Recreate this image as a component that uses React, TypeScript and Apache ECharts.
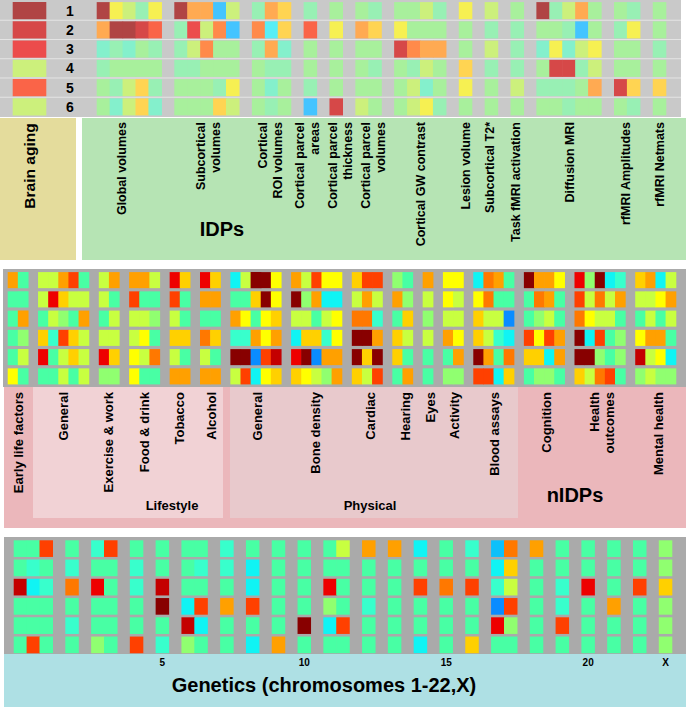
import React, { useEffect, useRef } from 'react';
import * as echarts from 'echarts';

// ---------- DATA (colour codes 0 = blue ... 3 = neutral mint ... 13 = dark red) ----------
const ROW_LABELS = ['1', '2', '3', '4', '5', '6'];

const brainAging = [13, 12, 11, 5, 10, 5];

const idpGroups = [
  'Global volumes', 'Subcortical\nvolumes', 'Cortical\nROI volumes', 'Cortical parcel\nareas',
  'Cortical parcel\nthickness', 'Cortical parcel\nvolumes', 'Cortical GW contrast', 'Lesion volume',
  'Subcortical T2*', 'Task fMRI activation', 'Diffusion MRI', 'rfMRI Amplitudes', 'rfMRI Netmats',
];
const idpSizes = [5, 5, 3, 1, 1, 2, 4, 1, 1, 1, 5, 2, 1];
const idpRows = [
  [[13, 6, 5, 3, 6], [13, 8, 8, 0, 5], [3, 8, 7], [3], [4], [4, 3], [4, 4, 5, 3], [6], [5], [4], [13, 3, 5, 8, 4], [4, 3], [4]],
  [[8, 13, 13, 12, 10], [3, 11, 5, 9, 0], [9, 1, 7], [10], [6], [8, 7], [6, 4, 4, 4], [4], [3], [3], [4, 4, 3, 0, 4], [3, 6], [4]],
  [[2, 3, 2, 4, 3], [3, 5, 9, 4, 4], [3, 8, 2], [4], [4], [4, 4], [12, 9, 8, 8], [4], [5], [3], [2, 6, 2, 5, 6], [4, 4], [3]],
  [[3, 4, 4, 4, 4], [3, 3, 4, 4, 4], [4, 3, 3], [4], [4], [4, 3], [4, 3, 5, 4], [7], [3], [3], [4, 12, 12, 3, 5], [4, 4], [4]],
  [[4, 3, 5, 7, 3], [4, 4, 4, 3, 6], [4, 2, 4], [3], [4], [4, 4], [4, 5, 2, 4], [6], [4], [5], [3, 3, 3, 4, 8], [12, 7], [7]],
  [[4, 2, 5, 7, 2], [4, 4, 4, 7, 5], [4, 3, 4], [0], [12], [5, 4], [4, 5, 6, 3], [4], [4], [4], [4, 4, 3, 4, 4], [4, 3], [4]],
];

const nidpGroups = [
  'Early life factors', 'General', 'Exercise & work', 'Food & drink', 'Tobacco', 'Alcohol',
  'General', 'Bone density', 'Cardiac', 'Hearing', 'Eyes', 'Activity', 'Blood assays',
  'Cognition', 'Health\noutcomes', 'Mental health',
];
const nidpSizes = [2, 5, 2, 3, 2, 2, 5, 5, 3, 2, 1, 2, 4, 4, 5, 4];
const nidpRows = [
  [[8, 3], [5, 5, 8, 10, 3], [5, 8], [8, 8, 5], [11, 7], [11, 7], [1, 5, 13, 13, 6], [8, 5, 10, 6, 6], [7, 10, 10], [4, 3], [8], [6, 6], [1, 9, 8, 3], [13, 8, 8, 6], [11, 4, 13, 1, 2], [7, 8, 1, 5]],
  [[3, 3], [5, 11, 7, 5, 5], [5, 3], [10, 3, 3], [10, 3], [8, 8], [3, 3, 7, 13, 6], [13, 4, 8, 1, 1], [5, 8, 5], [8, 4], [5], [6, 5], [6, 9, 3, 3], [3, 9, 8, 3], [10, 5, 9, 5, 8], [5, 5, 6, 8]],
  [[3, 8], [3, 5, 4, 3, 8], [3, 5], [5, 5, 4], [5, 3], [3, 3], [8, 6, 3, 6, 7], [5, 5, 3, 5, 6], [9, 9, 2], [3, 7], [4], [5, 5], [7, 5, 5, 0], [3, 4, 5, 3], [9, 6, 5, 5, 3], [3, 5, 3, 5]],
  [[3, 4], [7, 2, 10, 7, 5], [5, 5], [5, 6, 3], [7, 7], [9, 7], [2, 2, 8, 6, 8], [1, 7, 7, 2, 6], [13, 13, 8], [7, 5], [5], [8, 6], [7, 5, 2, 1], [10, 6, 10, 8], [13, 1, 10, 3, 4], [6, 8, 8, 3]],
  [[3, 5], [11, 3, 5, 7, 5], [11, 7], [6, 5, 9], [5, 3], [5, 3], [13, 13, 0, 10, 12], [11, 13, 0, 8, 8], [13, 7, 13], [7, 3], [3], [3, 8], [13, 8, 3, 9], [7, 7, 1, 8], [13, 13, 4, 3, 4], [12, 5, 6, 1]],
  [[6, 3], [3, 3, 5, 3, 5], [4, 4], [6, 3, 3], [8, 8], [8, 8], [5, 10, 1, 6, 7], [7, 6, 5, 4, 8], [7, 5, 10], [3, 8], [3], [4, 4], [10, 10, 1, 7], [3, 4, 4, 3], [7, 5, 9, 10, 3], [4, 5, 4, 4]],
];

const chrLabels = ['1', '2', '3', '4', '5', '6', '7', '8', '9', '10', '11', '12', '13', '14', '15', '16', '17', '18', '19', '20', '21', '22', 'X'];
const chrSizes = [3, 1, 2, 1, 1, 2, 1, 1, 1, 1, 2, 1, 1, 1, 1, 1, 2, 1, 1, 1, 1, 1, 1];
const chrTicks = ['5', '10', '15', '20', 'X'];
const geneRows = [
  [[3, 3, 10], [3], [2, 10], [3], [3], [3, 3], [2], [3], [3], [3], [3, 5], [8], [8], [1], [3], [2], [0.5, 9], [8], [3], [3], [3], [3], [4]],
  [[3, 2, 3], [2], [3, 3], [2], [3], [3, 2], [2], [1], [3], [3], [3, 3], [3], [3], [3], [3], [3], [1, 7], [3], [3], [3], [3], [3], [4]],
  [[12, 1, 2], [9], [11, 3], [2], [12], [3, 3], [3], [1], [3], [3], [11, 3], [3], [3], [10], [9], [10], [2, 5], [3], [2], [11], [3], [10], [7]],
  [[3, 3, 3], [3], [3, 3], [3], [13], [1, 10], [8], [10], [3], [3], [4, 3], [2], [3], [3], [3], [3], [0, 10], [3], [2], [3], [8], [3], [4]],
  [[3, 3, 3], [2], [3, 3], [3], [3], [12, 1], [3], [3], [3], [13], [1, 10], [3], [3], [3], [3], [3], [11, 4], [3], [10], [3], [3], [3], [4]],
  [[3, 10, 3], [3], [4, 3], [10], [2], [4, 3], [3], [1], [8], [3], [3, 3], [3], [3], [1], [3], [7], [3, 3], [3], [3], [3], [3], [3], [4]],
];

// ---------- STYLE / LAYOUT ----------
const jetColors = ['#0a8cff', '#10f4f4', '#38ffcc', '#48ffa4', '#90ff70', '#c8ff40', '#ffff00', '#ffd000', '#ffa000', '#ff7800', '#ff4000', '#ee0000', '#c40000', '#880000'];
const pastelColors = ['#44c4ff', '#58eef6', '#84f0cc', '#98f0b4', '#a8f09c', '#ccf07c', '#f6f052', '#ffd452', '#ffaa52', '#ff8a4a', '#fa6448', '#ec4c4c', '#d64848', '#b04444'];
const FONT = '"Liberation Sans", Arial, Helvetica, sans-serif';
const idpLabelX = [122, 208, 270, 307, 340, 373, 421, 466, 490, 516, 570, 626, 660];
const nidpLabelX = [18, 63, 108, 144, 179, 211, 257, 315, 370, 405, 430, 454, 494, 546, 602, 658];

const TOP = { top: 1, height: 115.5 };

function buildCols(sizes: number[], names: string[]) {
  const cats: string[] = [];
  const colOf: number[] = [];
  sizes.forEach((n, g) => {
    if (g > 0) cats.push('gap|' + g);
    for (let i = 0; i < n; i++) {
      colOf.push(cats.length);
      cats.push(names[g] + '|' + i);
    }
  });
  return { cats, colOf };
}

function buildData(rows: number[][][], colOf: number[]) {
  const out: number[][] = [];
  rows.forEach((row, r) => {
    row.flat().forEach((v, j) => out.push([colOf[j], r, v]));
  });
  return out;
}

const cellRender = (gap: number) => (params: any, api: any) => {
  const c = api.coord([api.value(0), api.value(1)]);
  const s = api.size([1, 1]);
  return {
    type: 'rect',
    shape: { x: c[0] - s[0] / 2 - 0.3, y: c[1] - s[1] / 2 + gap, width: s[0] + 0.6, height: s[1] - 2 * gap },
    style: { fill: api.visual('color') },
  };
};

function vText(text: string, x: number, y: number, size: number, align = 'right') {
  return {
    type: 'text', x, y, rotation: Math.PI / 2, z: 100,
    style: {
      text, fill: '#000', font: `bold ${size}px ${FONT}`,
      align, verticalAlign: 'middle', textAlign: align, textVerticalAlign: 'middle', lineHeight: 15,
    },
  };
}
function hText(text: string, x: number, y: number, size: number) {
  return {
    type: 'text', x, y, z: 100,
    style: {
      text, fill: '#000', font: `bold ${size}px ${FONT}`,
      align: 'center', verticalAlign: 'middle', textAlign: 'center', textVerticalAlign: 'middle',
    },
  };
}
function rect(x: number, y: number, w: number, h: number, fill: string) {
  return { type: 'rect', z: 0, shape: { x, y, width: w, height: h }, style: { fill } };
}

export default function App() {
  const ref = useRef<HTMLDivElement>(null);
  useEffect(() => {
    if (!ref.current) return;
    const chart = echarts.init(ref.current, null, { renderer: 'svg' });

    const idp = buildCols(idpSizes, idpGroups);
    const nidp = buildCols(nidpSizes, nidpGroups);
    const gene = buildCols(chrSizes, chrLabels);

    const hiddenX = (data: string[], gridIndex: number) => ({
      type: 'category', gridIndex, data, show: false, boundaryGap: true,
    });
    const hiddenY = (gridIndex: number) => ({
      type: 'category', gridIndex, data: ROW_LABELS, inverse: true, show: false,
    });

    const rowLines: any[] = [];
    for (let k = 1; k < 6; k++) {
      const y = TOP.top + (TOP.height / 6) * k;
      rowLines.push({ type: 'line', z: 1, shape: { x1: 0, y1: y, x2: 681, y2: y }, style: { stroke: '#e4e4e4', lineWidth: 1 } });
    }

    const graphics: any[] = [
      rect(0, 0, 681, 117, '#c9c9c9'),
      ...rowLines,
      rect(0, 118, 76, 142, '#e4dc9c'),
      rect(82, 118, 604, 142, '#b6e4b4'),
      rect(3, 269, 683, 118, '#ababab'),
      rect(4, 387, 682, 141, '#ebb7bb'),
      rect(33, 387, 190, 131, '#f1d2d5'),
      rect(230, 387, 288, 131, '#e8c9cc'),
      rect(4, 537, 682, 117, '#aaaaaa'),
      rect(4, 654, 682, 53, '#aee0e4'),
      vText('Brain aging', 29, 166, 15.5, 'center'),
      hText('IDPs', 222, 229, 20),
      ...idpGroups.map((t, i) => vText(t, idpLabelX[i], 122, 12.5)),
      ...nidpGroups.map((t, i) => vText(t, nidpLabelX[i], 392, 13)),
      hText('Lifestyle', 172, 505, 13),
      hText('Physical', 370, 505, 13),
      hText('nIDPs', 575, 495, 20),
      hText('Genetics (chromosomes 1-22,X)', 324, 685, 20),
    ];

    chart.setOption({
      animation: false,
      backgroundColor: '#ffffff',
      grid: [
        { left: 13, top: TOP.top, width: 33, height: TOP.height },
        { left: 97, top: TOP.top, width: 569, height: TOP.height },
        { left: 8, top: 270.5, width: 668, height: 115.5 },
        { left: 14, top: 539, width: 658, height: 115.5 },
      ],
      xAxis: [
        hiddenX(['Brain aging'], 0),
        hiddenX(idp.cats, 1),
        hiddenX(nidp.cats, 2),
        {
          type: 'category', gridIndex: 3, data: gene.cats, boundaryGap: true,
          axisLine: { show: false }, axisTick: { show: false }, splitLine: { show: false },
          axisLabel: {
            interval: 0, margin: 3, fontSize: 10, fontWeight: 'bold', color: '#000', fontFamily: FONT,
            formatter: (v: string) => {
              const [c, i] = v.split('|');
              return i === '0' && chrTicks.includes(c) ? c : '';
            },
          },
        },
      ],
      yAxis: [
        {
          type: 'category', gridIndex: 0, data: ROW_LABELS, inverse: true, position: 'right',
          axisLine: { show: false }, axisTick: { show: false }, splitLine: { show: false },
          axisLabel: { margin: 20, fontSize: 14, fontWeight: 'bold', color: '#000', fontFamily: FONT },
        },
        hiddenY(1), hiddenY(2), hiddenY(3),
      ],
      visualMap: [
        { type: 'continuous', show: false, min: 0, max: 13, dimension: 2, seriesIndex: [0, 1], inRange: { color: pastelColors } },
        { type: 'continuous', show: false, min: 0, max: 13, dimension: 2, seriesIndex: [2, 3], inRange: { color: jetColors } },
      ],
      series: [
        { type: 'custom', xAxisIndex: 0, yAxisIndex: 0, renderItem: cellRender(1.1), encode: { x: 0, y: 1 },
          data: brainAging.map((v, r) => [0, r, v]) },
        { type: 'custom', xAxisIndex: 1, yAxisIndex: 1, renderItem: cellRender(1.1), encode: { x: 0, y: 1 },
          data: buildData(idpRows, idp.colOf) },
        { type: 'custom', xAxisIndex: 2, yAxisIndex: 2, renderItem: cellRender(1.6), encode: { x: 0, y: 1 },
          data: buildData(nidpRows, nidp.colOf) },
        { type: 'custom', xAxisIndex: 3, yAxisIndex: 3, renderItem: cellRender(1.3), encode: { x: 0, y: 1 },
          data: buildData(geneRows, gene.colOf) },
      ],
      graphic: { elements: graphics },
    });
    return () => chart.dispose();
  }, []);
  return <div ref={ref} style={{ position: 'absolute', left: 0, top: 0, width: 686, height: 707 }} />;
}
